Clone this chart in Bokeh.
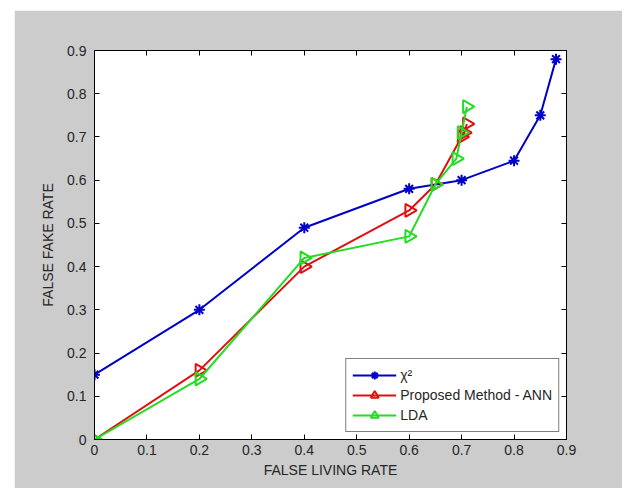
import math
from bokeh.plotting import figure
from bokeh.models import FixedTicker, LinearAxis, Range1d, Legend, Spacer
from bokeh.layouts import row, column
from bokeh.embed import file_html
from bokeh.resources import INLINE

# data
chi_x = [0.0, 0.2, 0.4, 0.6, 0.7, 0.8, 0.85, 0.88]
chi_y = [0.15, 0.30, 0.49, 0.58, 0.60, 0.645, 0.75, 0.88]

ann_x = [0.0, 0.2, 0.4, 0.6, 0.65, 0.70, 0.705, 0.71]
ann_y = [0.0, 0.16, 0.40, 0.53, 0.59, 0.70, 0.71, 0.73]

lda_x = [0.0, 0.2, 0.4, 0.6, 0.65, 0.69, 0.70, 0.71]
lda_y = [0.0, 0.14, 0.42, 0.47, 0.59, 0.65, 0.71, 0.77]

ticks = [0, 0.1, 0.2, 0.3, 0.4, 0.5, 0.6, 0.7, 0.8, 0.9]
tick_labels = ["0", "0.1", "0.2", "0.3", "0.4", "0.5", "0.6", "0.7", "0.8", "0.9"]

series_names = ["\u03c7\u00b2", "Proposed Method - ANN", "LDA"]
x_title = "FALSE LIVING RATE"
y_title = "FALSE FAKE RATE"

BLUE = "#0000c8"
RED = "#e01010"
GREEN = "#22dd22"
GRAY = "#cccccc"
FONT = "Liberation Sans"

p = figure(width=608, height=478, output_backend="svg", toolbar_location=None,
           x_range=Range1d(0, 0.9), y_range=Range1d(0, 0.9),
           min_border_left=80, min_border_right=56, min_border_top=40, min_border_bottom=49,
           background_fill_color="white", border_fill_color=GRAY)
p.xgrid.visible = False
p.ygrid.visible = False
p.outline_line_color = "black"
p.outline_line_width = 1

def style(ax, show_labels=True):
    ax.ticker = FixedTicker(ticks=ticks)
    if show_labels:
        ax.major_label_overrides = {t: l for t, l in zip(ticks, tick_labels)}
    else:
        ax.major_label_overrides = {t: "" for t in ticks}
    ax.major_tick_in = 5
    ax.major_tick_out = 0
    ax.minor_tick_in = 0
    ax.minor_tick_out = 0
    ax.axis_line_color = "black"
    ax.major_tick_line_color = "black"
    ax.major_label_text_font = FONT
    ax.major_label_text_font_size = "14px"
    ax.major_label_text_color = "#262626"
    ax.axis_label_text_font = FONT
    ax.axis_label_text_font_size = "14px"
    ax.axis_label_text_font_style = "normal"
    ax.axis_label_text_color = "#262626"

style(p.xaxis[0])
style(p.yaxis[0])
p.xaxis[0].axis_label = x_title
p.yaxis[0].axis_label = y_title
p.xaxis[0].major_label_standoff = 5
p.xaxis[0].axis_label_standoff = 4
p.yaxis[0].major_label_standoff = 8
p.yaxis[0].axis_label_standoff = 8

top_ax = LinearAxis()
right_ax = LinearAxis()
style(top_ax, False)
style(right_ax, False)
p.add_layout(top_ax, "above")
p.add_layout(right_ax, "right")

l1 = p.line(chi_x, chi_y, line_color=BLUE, line_width=2)
m1 = p.scatter(chi_x, chi_y, marker="asterisk", size=11, line_color=BLUE, line_width=2)
l2 = p.line(ann_x, ann_y, line_color=RED, line_width=2)
m2 = p.scatter(ann_x, ann_y, marker="triangle", angle=-math.pi / 2, size=13,
               line_color=RED, fill_color=None, line_width=2)
l3 = p.line(lda_x, lda_y, line_color=GREEN, line_width=2)
m3 = p.scatter(lda_x, lda_y, marker="triangle", angle=-math.pi / 2, size=13,
               line_color=GREEN, fill_color=None, line_width=2)

legend = Legend(items=[(series_names[0], [l1, m1]),
                       (series_names[1], [l2, m2]),
                       (series_names[2], [l3, m3])],
                location="bottom_right")
legend.margin = 7
legend.padding = 6
legend.spacing = 0
legend.glyph_width = 44
legend.glyph_height = 20
legend.label_height = 20
legend.label_text_font = FONT
legend.label_text_font_size = "14px"
legend.label_text_color = "#262626"
legend.label_standoff = 4
legend.border_line_color = "black"
legend.border_line_width = 1
legend.background_fill_color = "white"
legend.background_fill_alpha = 1
p.add_layout(legend, "center")

layout = row(Spacer(width=14), column(Spacer(height=10), p))
open("out.html", "w").write(file_html(layout, INLINE))
